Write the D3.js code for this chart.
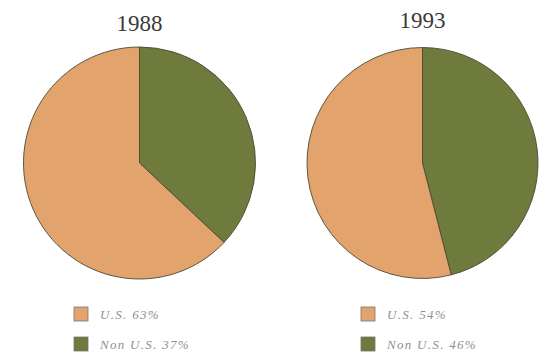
<!DOCTYPE html>
<html>
<head>
<meta charset="utf-8">
<script src="https://cdn.jsdelivr.net/npm/d3@7"></script>
<style>
  html, body { margin: 0; padding: 0; background: #fff; }
  svg { display: block; }
</style>
</head>
<body>
<svg id="chart" width="544" height="359"></svg>
<script>
// Market share, U.S. vs. non-U.S.
const years = ["1988", "1993"];
const categories = ["Non U.S.", "U.S."];
const share1988 = [37, 63];
const share1993 = [46, 54];
const legendLabels1988 = ["U.S. 63%", "Non U.S. 37%"];
const legendLabels1993 = ["U.S. 54%", "Non U.S. 46%"];

const colors = d3.scaleOrdinal()
  .domain(categories)
  .range(["#6f7a3d", "#e3a36c"]);

const svg = d3.select("#chart");

const panels = [
  { year: years[0], values: share1988, labels: legendLabels1988, cx: 139.5, cy: 163, r: 116, titleY: 31, legendX: 74 },
  { year: years[1], values: share1993, labels: legendLabels1993, cx: 422.5, cy: 163, r: 115.5, titleY: 28, legendX: 361 }
];

const pie = d3.pie().sort(null).value(d => d.value);

panels.forEach(p => {
  const g = svg.append("g").attr("transform", `translate(${p.cx},${p.cy})`);
  const arc = d3.arc().innerRadius(0).outerRadius(p.r);
  const data = categories.map((c, i) => ({ cat: c, value: p.values[i] }));

  g.selectAll("path")
    .data(pie(data))
    .join("path")
    .attr("d", arc)
    .attr("fill", d => colors(d.data.cat))
    .attr("stroke", "#4a4a36")
    .attr("stroke-width", 0.9);

  // year title
  svg.append("text")
    .attr("x", p.cx)
    .attr("y", p.titleY)
    .attr("text-anchor", "middle")
    .attr("font-family", "'Liberation Serif', 'DejaVu Serif', serif")
    .attr("font-size", 23)
    .attr("fill", "#3a3a3a")
    .text(p.year);

  // legend: U.S. first, then Non U.S.
  const legendCats = ["U.S.", "Non U.S."];
  const lg = svg.append("g").attr("transform", `translate(${p.legendX},307)`);
  legendCats.forEach((c, i) => {
    const row = lg.append("g").attr("transform", `translate(0,${i * 30})`);
    row.append("rect")
      .attr("width", 14).attr("height", 14)
      .attr("fill", colors(c))
      .attr("stroke", "#777")
      .attr("stroke-width", 0.8);
    row.append("text")
      .attr("x", 26)
      .attr("y", 12)
      .attr("font-family", "'Liberation Serif', 'DejaVu Serif', serif")
      .attr("font-style", "italic")
      .attr("font-size", 13)
      .attr("letter-spacing", 1.3)
      .attr("fill", "#8f8f8f")
      .text(p.labels[i]);
  });
});
</script>
</body>
</html>
